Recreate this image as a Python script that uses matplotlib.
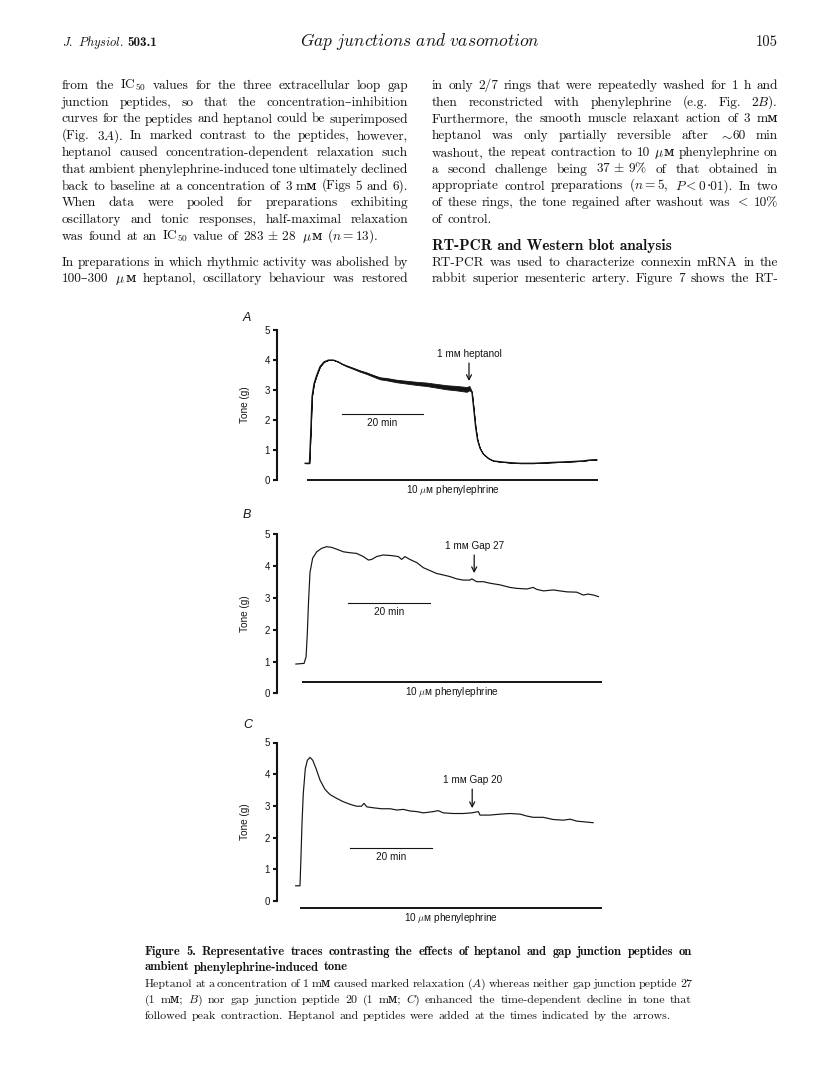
import matplotlib
matplotlib.use('Agg')
from matplotlib import pyplot as plt

W, H = 816, 1088
plt.rcParams['mathtext.fontset'] = 'cm'
plt.rcParams['axes.unicode_minus'] = False

SERIF = ['cmr10', 'DejaVu Serif', 'DejaVu Sans']
BOLD = ['cmb10', 'DejaVu Serif', 'DejaVu Sans']
SANS = ['Liberation Sans', 'DejaVu Sans']
INK = '#141414'

# traces: minutes from phenylephrine addition, tone in g
a_time = [-0.5, 0.58, 0.9, 1.23, 1.73, 2.4, 3.2, 4.2, 5.3, 6.5, 7.7, 8.6, 9.8, 11.4,
          13.1, 14.7, 16.4, 18.0, 19.7, 22.1, 24.6, 27.1, 29.5, 32.0, 34.5, 37.0,
          39.4, 40.1, 40.7, 41.1, 41.6, 42.1, 42.7, 43.5, 44.8, 46.0, 47.7, 50.1,
          52.6, 55.9, 59.2, 62.5, 65.8, 68.2, 69.9, 71.5]
a_tone = [0.56, 0.56, 1.56, 2.78, 3.22, 3.5, 3.78, 3.94, 4.0, 4.0, 3.94, 3.87, 3.8, 3.72,
          3.63, 3.56, 3.47, 3.39, 3.36, 3.3, 3.26, 3.22, 3.19, 3.14, 3.09, 3.06,
          3.02, 3.06, 2.94, 2.44, 1.78, 1.33, 1.06, 0.87, 0.72, 0.64, 0.61, 0.58,
          0.56, 0.56, 0.58, 0.6, 0.62, 0.64, 0.67, 0.68]
# half-width of the fast oscillation band on trace A
a_spread = [0, 0, 0, 0, 0, 0, 0, 0, 0, 0, 0, 0.005, 0.012, 0.016,
            0.02, 0.024, 0.028, 0.033, 0.038, 0.042, 0.047, 0.052, 0.057, 0.062, 0.068, 0.074,
            0.08, 0.07, 0, 0, 0, 0, 0, 0, 0, 0, 0, 0,
            0, 0, 0, 0, 0, 0, 0, 0]

b_time = [-1.5, 0.5, 1.0, 1.3, 1.6, 1.95, 2.6, 3.6, 4.8, 6.0, 7.2, 8.5, 10.1, 11.7,
          13.3, 14.96, 16.2, 17.0, 18.2, 19.8, 21.9, 23.5, 24.3, 25.1, 26.3, 28.0,
          29.6, 31.2, 32.8, 34.5, 36.1, 37.7, 39.3, 41.0, 41.4, 42.6, 44.2, 45.9,
          48.3, 50.7, 52.4, 54.8, 56.4, 57.2, 58.9, 61.3, 62.9, 64.6, 67.0, 68.6,
          69.8, 71.1, 72.3]
b_tone = [0.92, 0.94, 1.15, 1.9, 2.9, 3.8, 4.25, 4.45, 4.56, 4.61, 4.59, 4.53, 4.45, 4.42,
          4.4, 4.3, 4.19, 4.21, 4.3, 4.35, 4.33, 4.3, 4.21, 4.3, 4.21, 4.11,
          3.95, 3.86, 3.77, 3.72, 3.67, 3.6, 3.56, 3.56, 3.6, 3.51, 3.51, 3.46,
          3.41, 3.33, 3.3, 3.28, 3.33, 3.27, 3.22, 3.25, 3.22, 3.19, 3.18, 3.09,
          3.12, 3.09, 3.04]

c_time = [-1.06, 0.0, 0.24, 0.49, 0.8, 1.3, 1.8, 2.44, 3.1, 3.9, 4.9, 6.1, 7.3, 8.9,
          10.6, 12.2, 13.8, 15.0, 15.6, 16.3, 17.9, 19.9, 22.0, 23.6, 25.2, 26.8,
          28.5, 30.1, 32.5, 33.7, 34.96, 37.4, 39.8, 41.9, 43.5, 43.9, 46.3, 48.8,
          51.2, 53.7, 55.3, 56.9, 59.3, 61.8, 64.2, 65.9, 67.5, 69.1, 71.5]
c_tone = [0.48, 0.48, 1.4, 2.45, 3.39, 4.18, 4.44, 4.53, 4.44, 4.18, 3.81, 3.52, 3.36, 3.24,
          3.13, 3.05, 2.99, 2.99, 3.08, 2.97, 2.94, 2.91, 2.91, 2.87, 2.89, 2.84,
          2.82, 2.78, 2.82, 2.85, 2.78, 2.76, 2.76, 2.78, 2.82, 2.71, 2.71, 2.74,
          2.76, 2.74, 2.68, 2.64, 2.64, 2.57, 2.55, 2.58, 2.52, 2.5, 2.47]

drug_names = ['1 mᴍ heptanol', '1 mᴍ Gap 27', '1 mᴍ Gap 20']
drug_times = [40.0, 42.0, 42.0]
pe_label = '10 $\\mu$ᴍ phenylephrine'
pe_ends = [71.9, 73.2, 73.7]
scale_label = '20 min'
scale_starts = [8.6, 11.2, 12.2]
scale_len = 20
tone_ticks = [0, 1, 2, 3, 4, 5]

# page layout in pixels: time-zero x, px per minute, y of 0 g, px per g
panels = [
    dict(name='A', t=a_time, v=a_tone, spread=a_spread, t0=307, pxm=4.05, y0=480, pxg=30.0,
         pe_y=0.0, sc_y=2.19, arrow=(3.3, 3.9), lab=(243, 318)),
    dict(name='B', t=b_time, v=b_tone, spread=None, t0=302, pxm=4.10, y0=693.3, pxg=31.8,
         pe_y=0.36, sc_y=2.83, arrow=(3.78, 4.35), lab=(243, 515)),
    dict(name='C', t=c_time, v=c_tone, spread=None, t0=300, pxm=4.10, y0=901, pxg=31.7,
         pe_y=-0.21, sc_y=1.67, arrow=(2.93, 3.53), lab=(243, 725)),
]

# '|' glues pieces of one word that use different fonts
left_par1 = [
    "from the IC$_{50}$ values for the three extracellular loop gap",
    "junction peptides, so that the concentration–inhibition",
    "curves for the peptides and heptanol could be superimposed",
    "(Fig. 3$A$). In marked contrast to the peptides, however,",
    "heptanol caused concentration-dependent relaxation such",
    "that ambient phenylephrine-induced tone ultimately declined",
    "back to baseline at a concentration of 3 mᴍ (Figs 5 and 6).",
    "When data were pooled for preparations exhibiting",
    "oscillatory and tonic responses, half-maximal relaxation",
    "was found at an IC$_{50}$ value of 283$\\,\\pm\\,$28 $\\mu$|ᴍ ($n=13$).",
]
left_par2 = [
    "In preparations in which rhythmic activity was abolished by",
    "100–300 $\\mu$|ᴍ heptanol, oscillatory behaviour was restored",
]
right_par1 = [
    "in only 2/7 rings that were repeatedly washed for 1 h and",
    "then reconstricted with phenylephrine (e.g. Fig. 2$B$).",
    "Furthermore, the smooth muscle relaxant action of 3 mᴍ",
    "heptanol was only partially reversible after $\\sim$|60 min",
    "washout, the repeat contraction to 10 $\\mu$|ᴍ phenylephrine on",
    "a second challenge being 37$\\,\\pm\\,$9% of that obtained in",
    "appropriate control preparations ($n=5$, $P<0$|·01). In two",
    "of these rings, the tone regained after washout was $<$ 10%",
    "of control.",
]
heading = "RT-PCR and Western blot analysis"
right_par2 = [
    "RT-PCR was used to characterize connexin mRNA in the",
    "rabbit superior mesenteric artery. Figure 7 shows the RT-",
]
cap_title = [
    "Figure 5. Representative traces contrasting the effects of heptanol and gap junction peptides on",
    "ambient phenylephrine-induced tone",
]
cap_body = [
    "Heptanol at a concentration of 1 mᴍ caused marked relaxation ($A$) whereas neither gap junction peptide 27",
    "(1 mᴍ; $B$) nor gap junction peptide 20 (1 mᴍ; $C$) enhanced the time-dependent decline in tone that",
    "followed peak contraction. Heptanol and peptides were added at the times indicated by the arrows.",
]


def fx(x):
    return x / W


def fy(y):
    return 1 - y / H


fig = plt.figure(figsize=(W / 100, H / 100), dpi=100)
fig.patch.set_facecolor('white')
renderer = fig.canvas.get_renderer()


def set_line(text, x0, x1, y, size, family, justify=True):
    words = []
    for w in text.split(' '):
        pieces = [fig.text(0, 0, s, fontsize=size, family=family, color=INK, va='baseline')
                  for s in w.split('|')]
        widths = [a.get_window_extent(renderer).width for a in pieces]
        words.append((pieces, widths))
    total = sum(sum(ws) for _, ws in words)
    gap = size * 0.36 * 100 / 72
    if justify and len(words) > 1:
        gap = (x1 - x0 - total) / (len(words) - 1)
    x = x0
    for pieces, widths in words:
        for a, w in zip(pieces, widths):
            a.set_position((fx(x), fy(y)))
            x += w
        x += gap


def set_par(lines, x0, x1, y, step, size, family, last_ragged=True):
    for i, line in enumerate(lines):
        just = not (last_ragged and i == len(lines) - 1)
        set_line(line, x0, x1, y + i * step, size, family, just)


# running head
jp = fig.text(fx(62), fy(46), r'$\mathit{J.\ Physiol.}$', fontsize=9, color=INK, va='baseline')
jp_w = jp.get_window_extent(renderer).width
fig.text(fx(62 + jp_w + 3), fy(46), '503.1', fontsize=9.5, family=BOLD, color=INK, va='baseline')
fig.text(fx(420), fy(46), r'$\mathit{Gap\ junctions\ and\ vasomotion}$', fontsize=12.5,
         color=INK, ha='center', va='baseline')
fig.text(fx(778), fy(46), '105', fontsize=10.5, family=SERIF, color=INK, ha='right', va='baseline')

# body text
BODY = 9.6
STEP = 16.75
set_par(left_par1, 62, 408, 89, STEP, BODY, SERIF)
set_par(left_par2, 62, 408, 266, STEP - 0.6, BODY, SERIF, last_ragged=False)
set_par(right_par1, 432, 778, 89, STEP, BODY, SERIF)
fig.text(fx(432), fy(250), heading, fontsize=11, family=BOLD, color=INK, va='baseline')
set_par(right_par2, 432, 778, 266, STEP - 0.6, BODY, SERIF, last_ragged=False)

# caption
set_par(cap_title, 145, 692, 955, 15.5, 9.0, BOLD)
set_par(cap_body, 145, 692, 987, 16, 8.6, SERIF)

# the three traces
for p, drug, dt, pe_end, sc0 in zip(panels, drug_names, drug_times, pe_ends, scale_starts):
    left, right = 277, 625
    ylo, yhi = -0.75, 5.3
    ax = fig.add_axes([fx(left), fy(p['y0'] - ylo * p['pxg']),
                       (right - left) / W, (yhi - ylo) * p['pxg'] / H])
    ax.set_xlim((left - p['t0']) / p['pxm'], (right - p['t0']) / p['pxm'])
    ax.set_ylim(ylo, yhi)
    ax.patch.set_alpha(0)

    ax.plot(p['t'], p['v'], color=INK, lw=0.85)
    if p['spread'] is not None:
        lo = [v - s for v, s in zip(p['v'], p['spread'])]
        hi = [v + s for v, s in zip(p['v'], p['spread'])]
        ax.fill_between(p['t'], lo, hi, color=INK, lw=0.6)

    # phenylephrine bar
    ax.plot([0, pe_end], [p['pe_y'], p['pe_y']], color=INK, lw=1.4, solid_capstyle='butt')
    ax.annotate(pe_label, (pe_end / 2, p['pe_y']), xytext=(0, -2.5), textcoords='offset points',
                ha='center', va='top', fontsize=7.2, family=SANS, color=INK)

    # time scale bar
    ax.plot([sc0, sc0 + scale_len], [p['sc_y'], p['sc_y']], color=INK, lw=0.8)
    ax.annotate(scale_label, (sc0 + scale_len / 2, p['sc_y']), xytext=(0, -2.5),
                textcoords='offset points', ha='center', va='top', fontsize=7.2,
                family=SANS, color=INK)

    # drug addition
    tip, tail = p['arrow']
    ax.annotate('', xy=(dt, tip), xytext=(dt, tail),
                arrowprops=dict(arrowstyle='->,head_length=0.35,head_width=0.18',
                                lw=0.9, color=INK, shrinkA=0, shrinkB=0))
    ax.text(dt, tail + 0.12, drug, ha='center', va='bottom', fontsize=7.2,
            family=SANS, color=INK)

    for s in ['top', 'right', 'bottom']:
        ax.spines[s].set_visible(False)
    ax.spines['left'].set_bounds(0, 5)
    ax.spines['left'].set_linewidth(1.5)
    ax.spines['left'].set_color(INK)
    ax.set_xticks([])
    ax.set_yticks(tone_ticks)
    ax.tick_params(axis='y', direction='out', length=3, width=1.5, color=INK,
                   labelsize=7, labelcolor=INK, pad=2)
    for lab in ax.get_yticklabels():
        lab.set_family(SANS)
    ax.set_ylabel('Tone (g)', fontsize=7.2, family=SANS, color=INK)
    ax.yaxis.set_label_coords((250 - left) / (right - left), (2.5 - ylo) / (yhi - ylo))

    fig.text(fx(p['lab'][0]), fy(p['lab'][1]), p['name'], fontsize=9, family=SANS,
             style='italic', color=INK, ha='left', va='center')

fig.savefig('out.png', dpi=100)
